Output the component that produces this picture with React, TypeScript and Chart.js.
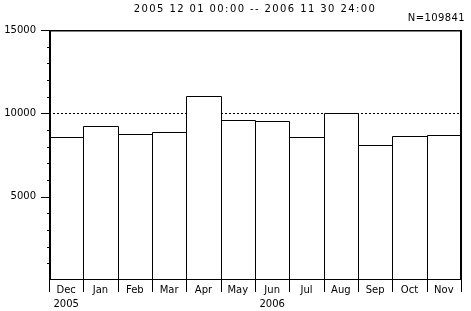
import { useEffect, useRef } from 'react';
import { Chart, registerables } from 'chart.js';

Chart.register(...registerables);

const months = ['Dec', 'Jan', 'Feb', 'Mar', 'Apr', 'May', 'Jun', 'Jul', 'Aug', 'Sep', 'Oct', 'Nov'];
const years = ['2005', '', '', '', '', '', '2006', '', '', '', '', ''];
const counts = [8600, 9260, 8740, 8860, 11020, 9620, 9520, 8600, 10000, 8120, 8620, 8680];
const yMajorTicks = [5000, 10000, 15000];
const yGridLines = [5000, 10000];
const yMin = 0;
const yMax = 15000;
const yStep = 1000;
const titleText = '2005 12 01 00:00 -- 2006 11 30 24:00';
const countText = 'N=109841';

const FONT = '"DejaVu Sans", sans-serif';

const decor = {
  id: 'decor',
  beforeDatasetsDraw(chart: any) {
    const { ctx, chartArea: a, scales } = chart;
    const y = scales.y;
    ctx.save();
    ctx.strokeStyle = '#000';
    ctx.lineWidth = 1;
    ctx.setLineDash([2, 2]);
    for (const v of yGridLines) {
      const py = Math.round(y.getPixelForValue(v)) + 0.5;
      ctx.beginPath();
      ctx.moveTo(a.left, py);
      ctx.lineTo(a.right, py);
      ctx.stroke();
    }
    ctx.restore();
  },
  afterDatasetsDraw(chart: any) {
    const { ctx, chartArea: a, scales } = chart;
    const x = scales.x;
    const y = scales.y;
    ctx.save();
    ctx.strokeStyle = '#000';
    ctx.setLineDash([]);
    // bar outlines from the bar elements' own geometry
    ctx.lineWidth = 1;
    const meta = chart.getDatasetMeta(0);
    meta.data.forEach((bar: any) => {
      const p = bar.getProps(['x', 'y', 'base', 'width'], true);
      const l = Math.round(p.x - p.width / 2) + 0.5;
      const r = Math.round(p.x + p.width / 2) + 0.5;
      const t = Math.round(p.y) + 0.5;
      const b = Math.round(p.base);
      ctx.beginPath();
      ctx.moveTo(l, b);
      ctx.lineTo(l, t);
      ctx.lineTo(r, t);
      ctx.lineTo(r, b);
      ctx.stroke();
    });
    // frame
    ctx.lineWidth = 2;
    ctx.beginPath();
    ctx.moveTo(a.left + 1, a.top);
    ctx.lineTo(a.left + 1, a.bottom);
    ctx.moveTo(a.right, a.top);
    ctx.lineTo(a.right, a.bottom);
    ctx.stroke();
    ctx.lineWidth = 1.5;
    ctx.beginPath();
    ctx.moveTo(a.left, a.top + 0.75);
    ctx.lineTo(a.right + 1, a.top + 0.75);
    ctx.stroke();
    ctx.lineWidth = 1;
    ctx.beginPath();
    ctx.moveTo(a.left, a.bottom - 0.5);
    ctx.lineTo(a.right + 1, a.bottom - 0.5);
    ctx.stroke();
    // y ticks
    ctx.lineWidth = 1;
    y.ticks.forEach((t: any) => {
      if (t.value === yMin) return;
      const py = Math.round(y.getPixelForValue(t.value)) + 0.5;
      const len = yMajorTicks.includes(t.value) ? 8 : 2;
      ctx.beginPath();
      ctx.moveTo(a.left - len, py);
      ctx.lineTo(a.left, py);
      ctx.stroke();
    });
    // x ticks at category boundaries
    for (let i = 0; i <= months.length; i++) {
      const px = Math.round(x.getPixelForValue(i - 0.5)) + 0.5;
      ctx.beginPath();
      ctx.moveTo(px, a.bottom);
      ctx.lineTo(px, a.bottom + 12);
      ctx.stroke();
    }
    ctx.restore();
  },
  afterDraw(chart: any) {
    const { ctx, chartArea: a } = chart;
    ctx.save();
    ctx.fillStyle = '#000';
    ctx.font = `10px ${FONT}`;
    ctx.textBaseline = 'middle';
    ctx.textAlign = 'center';
    (ctx as any).letterSpacing = '1.4px';
    ctx.fillText(titleText, (a.left + a.right) / 2, 9);
    (ctx as any).letterSpacing = '0.4px';
    ctx.textAlign = 'right';
    ctx.fillText(countText, a.right + 4, 18);
    ctx.restore();
  },
};

export default function App() {
  const ref = useRef<HTMLCanvasElement | null>(null);
  useEffect(() => {
    if (!ref.current) return;
    const chart = new Chart(ref.current, {
      type: 'bar',
      data: {
        labels: months.map((m, i) => (years[i] ? [m, years[i]] : [m])),
        datasets: [
          {
            data: counts,
            backgroundColor: '#fff',
            borderWidth: 0,
            barPercentage: 1,
            categoryPercentage: 1,
          },
        ],
      },
      options: {
        responsive: false,
        animation: false,
        layout: { padding: { top: 30, right: 10, left: 0, bottom: 0 } },
        plugins: {
          legend: { display: false },
          tooltip: { enabled: false },
          title: { display: false },
        },
        scales: {
          x: {
            grid: { display: false, drawTicks: false },
            border: { display: false },
            ticks: {
              color: '#000',
              font: { family: FONT, size: 10, lineHeight: 1.4 },
              padding: 3,
              maxRotation: 0,
              autoSkip: false,
            },
            afterFit: (s: any) => {
              s.height = 31;
            },
          },
          y: {
            min: yMin,
            max: yMax,
            grid: { display: false, drawTicks: false },
            border: { display: false },
            ticks: {
              stepSize: yStep,
              autoSkip: false,
              color: '#000',
              font: { family: FONT, size: 10 },
              padding: 13,
              callback: (v: any) => (yMajorTicks.includes(Number(v)) ? String(v) : ''),
            },
            afterFit: (s: any) => {
              s.width = 49;
            },
          },
        },
      },
      plugins: [decor],
    });
    return () => chart.destroy();
  }, []);
  return (
    <div style={{ position: 'absolute', left: 0, top: 0, width: 471, height: 311, background: '#fff' }}>
      <canvas ref={ref} width={471} height={311} style={{ display: 'block' }} />
    </div>
  );
}
